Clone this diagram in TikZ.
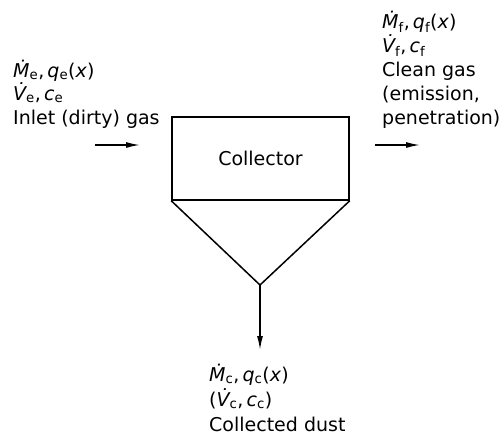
\documentclass[tikz,border=0pt]{standalone}
\usepackage{fontspec}
\setmainfont{DejaVu Sans}
\usepackage{tikz}
\usetikzlibrary{positioning, arrows.meta}

\newcommand{\massflow}[1]{\textit{\.M}\textsubscript{#1},\,\textit{q}\textsubscript{#1}(\textit{x})}
\newcommand{\volflow}[1]{\textit{\.V}\textsubscript{#1},\,\textit{c}\textsubscript{#1}}

\begin{document}
\begin{tikzpicture}[x=1pt, y=-1pt, every node/.style={inner sep=0pt},
  lbl/.style={anchor=base west, font=\fontsize{19}{24}\selectfont},
  vessel/.style={draw, line width=1.5pt, line join=miter},
  flowarrow/.style={-{Latex[length=14pt, width=6pt]}, line width=1.5pt}]
\useasboundingbox (0,0) rectangle (503,440);
\node[vessel, minimum width=177pt, minimum height=83pt,
  font=\fontsize{19}{24}\selectfont] (collector) at (260.5,158.5) {Collector};
\coordinate (apex) at (260,285);
\draw[vessel] (collector.south west) -- (apex) -- (collector.south east);

\node[lbl] (in-flow) at (13,77) {\massflow{e}};
\node[lbl] (in-vol) at ([yshift=-23pt]in-flow.base west) {\volflow{e}};
\node[lbl] (in-name) at ([yshift=-24pt]in-vol.base west) {Inlet (dirty) gas};

\node[lbl] (out-flow) at (382,28) {\massflow{f}};
\node[lbl] (out-vol) at ([yshift=-24pt]out-flow.base west) {\volflow{f}};
\node[lbl] (out-name) at ([yshift=-24pt]out-vol.base west) {Clean gas};
\node[lbl] (out-note1) at ([yshift=-24pt]out-name.base west) {(emission,};
\node[lbl] (out-note2) at ([yshift=-24pt]out-note1.base west) {penetration)};

\node[lbl] (dust-flow) at (209,381) {\massflow{c}};
\node[lbl] (dust-vol) at ([yshift=-25pt]dust-flow.base west) {(\volflow{c})};
\node[lbl] (dust-name) at ([yshift=-25pt]dust-vol.base west) {Collected dust};

\coordinate (in-tail) at (95,145);
\coordinate (in-head) at (140,145);
\coordinate (out-tail) at (375,145);
\coordinate (out-head) at (420,145);
\coordinate (dust-head) at (260,350);
\draw[flowarrow] (in-tail) -- (in-head);
\draw[flowarrow] (out-tail) -- (out-head);
\draw[flowarrow] (apex) -- (dust-head);
\end{tikzpicture}
\end{document}
